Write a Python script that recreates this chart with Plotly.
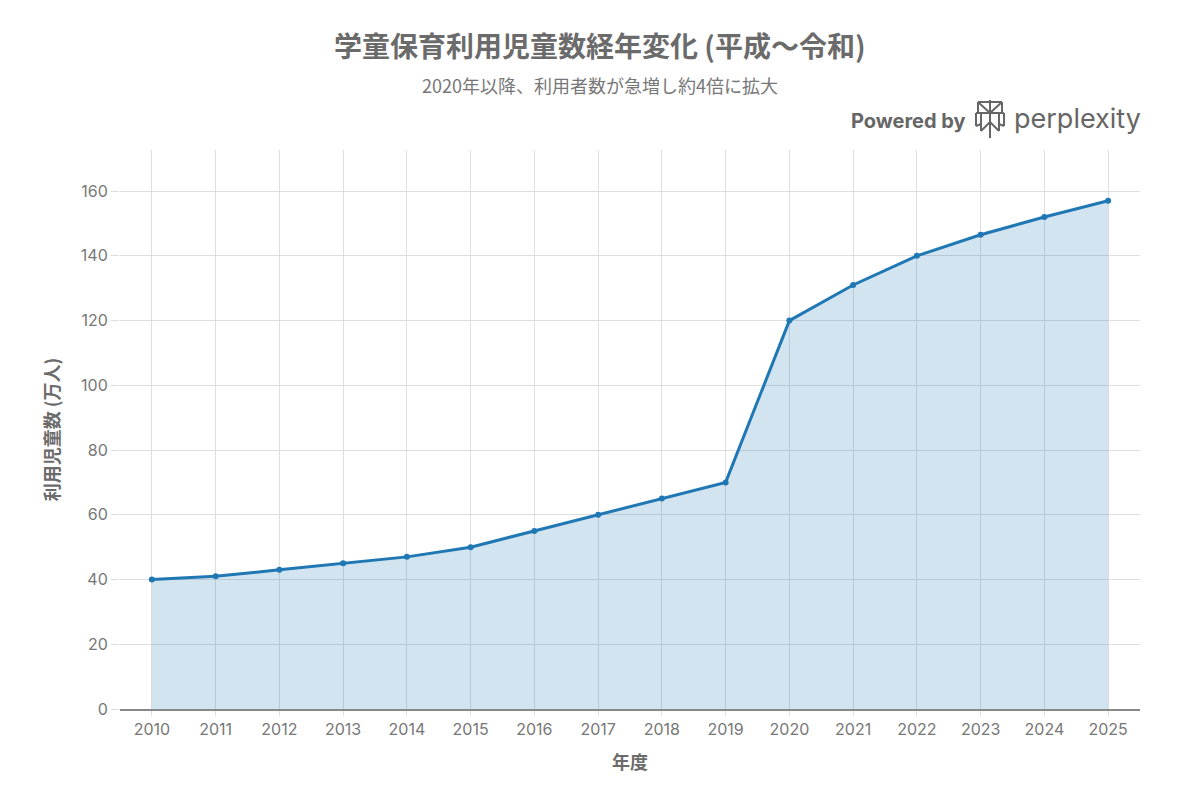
import plotly.graph_objects as go

# Data
years = [2010, 2011, 2012, 2013, 2014, 2015, 2016, 2017,
         2018, 2019, 2020, 2021, 2022, 2023, 2024, 2025]
children = [40, 41, 43, 45, 47, 50, 55, 60,
            65, 70, 120, 131, 140, 146.5, 152, 157]
y_ticks = [0, 20, 40, 60, 80, 100, 120, 140, 160]

title_text = "学童保育利用児童数経年変化 (平成～令和)"
subtitle_text = "2020年以降、利用者数が急増し約4倍に拡大"
x_title = "年度"
y_title = "利用児童数 (万人)"

cjk_font = "Noto Sans CJK JP, Noto Sans, sans-serif"
num_font = "Inter, Noto Sans CJK JP, sans-serif"
grey = "#6b6b6b"

# figure margins (page has an 8px offset)
M_L, M_R, M_T, M_B = 112, 68, 142, 99
PLOT_W = 1200 - M_L - M_R
PLOT_H = 800 - M_T - M_B


def to_paper(px, py):
    # page pixel -> paper coords
    return (px - 8 - M_L) / PLOT_W, (800 - M_B - (py - 8)) / PLOT_H


fig = go.Figure()
fig.add_trace(go.Scatter(
    x=years,
    y=children,
    mode="lines+markers",
    fill="tozeroy",
    fillcolor="rgba(31,119,180,0.2)",
    line=dict(color="#1f77b4", width=3),
    marker=dict(size=6, color="#1f77b4"),
    showlegend=False,
))

fig.update_layout(
    width=1200,
    height=800,
    paper_bgcolor="white",
    plot_bgcolor="white",
    font=dict(family=num_font, color=grey, size=16),
    margin=dict(l=M_L, r=M_R, t=M_T, b=M_B),
    xaxis=dict(
        title=dict(text=f"<b>{x_title}</b>",
                   font=dict(size=18, color=grey, family=cjk_font), standoff=18),
        range=[2009.5, 2025.5],
        tickmode="array",
        tickvals=years,
        ticktext=[str(y) for y in years],
        showgrid=True,
        gridcolor="#dedede",
        showline=True,
        linecolor="#888888",
        linewidth=2,
        ticks="outside",
        tickcolor="#dedede",
        ticklen=5,
        zeroline=False,
        tickfont=dict(size=16, color="#777777"),
    ),
    yaxis=dict(
        title=dict(text=f"<b>{y_title}</b>",
                   font=dict(size=18, color=grey, family=cjk_font), standoff=16),
        range=[0, 172.7],
        tickvals=y_ticks,
        showgrid=True,
        gridcolor="#dedede",
        showline=False,
        ticks="outside",
        tickcolor="#dedede",
        ticklen=8,
        zeroline=False,
        tickfont=dict(size=16, color="#777777"),
    ),
)

# title and subtitle
tx, ty = to_paper(600, 45)
fig.add_annotation(text=f"<b>{title_text}</b>", xref="paper", yref="paper",
                   x=tx, y=ty, xanchor="center", yanchor="middle", showarrow=False,
                   font=dict(size=28, color=grey, family=cjk_font))
sx, sy = to_paper(600, 85)
fig.add_annotation(text=subtitle_text, xref="paper", yref="paper",
                   x=sx, y=sy, xanchor="center", yanchor="middle", showarrow=False,
                   font=dict(size=18, color="#777777", family=cjk_font))

# "Powered by perplexity" badge
bx, by = to_paper(968, 121)
fig.add_annotation(text="<b>Powered by</b>", xref="paper", yref="paper",
                   x=bx, y=by, xanchor="right", yanchor="middle", showarrow=False,
                   font=dict(size=20, color="#666666", family="Inter, sans-serif"))
px_, py_ = to_paper(1012, 119)
fig.add_annotation(text="perplexity", xref="paper", yref="paper",
                   x=px_, y=py_, xanchor="left", yanchor="middle", showarrow=False,
                   font=dict(size=27, color="#666666", family="Inter, sans-serif"))

icon_segments = [
    ((990, 100), (990, 138)),
    ((978, 102), (1002, 102)),
    ((978, 102), (990, 113)),
    ((1002, 102), (990, 113)),
    ((978, 102), (978, 113)),
    ((1002, 102), (1002, 113)),
    ((976, 113), (1004, 113)),
    ((976, 113), (976, 126)),
    ((1004, 113), (1004, 126)),
    ((981, 113), (981, 131)),
    ((999, 113), (999, 131)),
    ((981, 131), (990, 122)),
    ((999, 131), (990, 122)),
    ((981, 124), (976, 126)),
    ((999, 124), (1004, 126)),
]
for (x0, y0), (x1, y1) in icon_segments:
    a0, b0 = to_paper(x0, y0)
    a1, b1 = to_paper(x1, y1)
    fig.add_shape(type="line", xref="paper", yref="paper",
                  x0=a0, y0=b0, x1=a1, y1=b1,
                  line=dict(color="#666666", width=2))

fig.write_html("out.html")
